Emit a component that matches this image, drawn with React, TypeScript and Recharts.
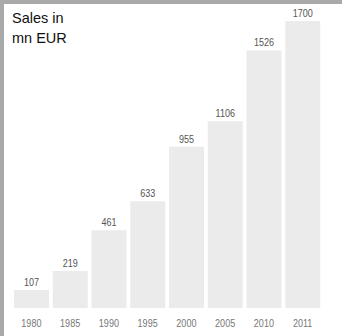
import { Bar, BarChart, LabelList, XAxis, YAxis } from "recharts";

const years = ["1980", "1985", "1990", "1995", "2000", "2005", "2010", "2011"];
const sales = [107, 219, 461, 633, 955, 1106, 1526, 1700];

const data = years.map((year, i) => ({ year, sales: sales[i] }));

const FONT = "'Liberation Sans', Arial, sans-serif";

// Arial Narrow look: squeeze regular Liberation Sans horizontally
function NarrowText({ x, y, fill, text }: { x: number; y: number; fill: string; text: string }) {
  return (
    <text
      transform={`translate(${x},${y}) scale(0.82,1)`}
      textAnchor="middle"
      fontSize={11}
      fontFamily={FONT}
      fill={fill}
    >
      {text}
    </text>
  );
}

function YearTick(props: any) {
  const { x, y, payload } = props;
  return <NarrowText x={x} y={y + 11} fill="#777" text={payload.value} />;
}

function ValueLabel(props: any) {
  const { x, y, width, value } = props;
  return <NarrowText x={x + width / 2} y={y - 4} fill="#555" text={String(value)} />;
}

export default function App() {
  return (
    <div
      style={{
        position: "absolute",
        left: 0,
        top: 0,
        width: 342,
        height: 336,
        boxSizing: "border-box",
        background: "#fff",
        borderLeft: "4px solid #a9a9a9",
        borderTop: "4px solid #a9a9a9",
        fontFamily: FONT,
      }}
    >
      <div
        style={{
          position: "absolute",
          left: 8,
          top: 4,
          fontSize: 14.5,
          lineHeight: "20px",
          color: "#111",
        }}
      >
        Sales in
        <br />
        mn EUR
      </div>
      <BarChart
        width={338}
        height={332}
        data={data}
        margin={{ top: 17, right: 20, bottom: 0, left: 8 }}
        barCategoryGap={2}
      >
        <XAxis
          dataKey="year"
          height={28}
          axisLine={false}
          tickLine={false}
          interval={0}
          tick={<YearTick />}
        />
        <YAxis hide domain={[0, 1700]} />
        <Bar dataKey="sales" fill="#ebebeb" isAnimationActive={false}>
          <LabelList dataKey="sales" content={<ValueLabel />} />
        </Bar>
      </BarChart>
    </div>
  );
}
